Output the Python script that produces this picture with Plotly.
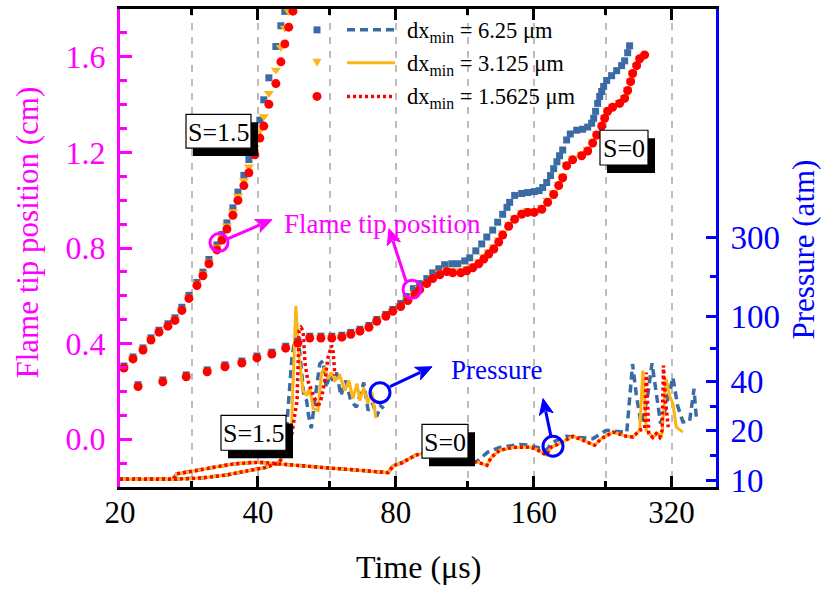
import math
import plotly.graph_objects as go

# ---------------- data ----------------
# Flame tip position, S = 1.5 (time in us, position in cm)
t_tip15 = [20.4, 21.35, 22.45, 23.37, 24.33, 25.45, 26.36, 27.3, 28.28, 29.44, 30.34, 31.27,
           32.55, 33.38, 34.23, 35.28, 36.18, 37.28, 38.23, 39.4, 40.4, 41.2, 42.27, 43.78,
           44.9, 45.8, 46.7, 47.7]
tip15_dx1 = [0.298, 0.336, 0.373, 0.415, 0.448, 0.473, 0.497, 0.539, 0.589, 0.643, 0.684, 0.734,
             0.792, 0.833, 0.879, 0.937, 0.999, 1.061, 1.115, 1.190, 1.260, 1.310, 1.401, 1.488,
             1.579, 1.654, 1.724, 1.791]
tip15_dx3 = [0.302, 0.340, 0.378, 0.420, 0.452, 0.478, 0.503, 0.545, 0.596, 0.651, 0.693, 0.744,
             0.804, 0.846, 0.893, 0.953, 1.018, 1.082, 1.140, 1.220, 1.292, 1.350, 1.448, 1.545,
             1.640, 1.720, 1.790, 1.860]
tip15_dx6 = [0.306, 0.344, 0.382, 0.424, 0.456, 0.483, 0.508, 0.552, 0.602, 0.656, 0.699, 0.752,
             0.813, 0.857, 0.905, 0.968, 1.034, 1.104, 1.170, 1.255, 1.335, 1.420, 1.512, 1.643,
             1.730, 1.790, 1.850, 1.920]

# Flame tip position, S = 0
t_tip0 = [21.9, 24.8, 27.9, 31.0, 33.9, 36.9, 39.8, 42.9, 46.0, 48.9, 51.9, 54.9, 58.0, 61.0,
          63.8, 66.8, 69.9, 72.7, 76.1, 78.8, 82.0, 85.0, 88.0, 90.2, 93.5, 96.3, 99.8, 103.4,
          106.5, 110.9, 114.3, 117.8, 121.4, 124.5, 127.6, 130.9, 134.2, 136.9, 141.1, 145.4,
          150.6, 155.2, 160.4, 166.6, 171.6, 176.9, 181.4, 185.1, 188.8, 194.6, 203.6, 209.9,
          215.2, 219.6, 225.2, 228.6, 232.0, 237.9, 246.4, 252.7, 256.6, 260.4, 263.1, 268.4,
          272.5, 279.4]
tip0_dx1 = [0.220, 0.240, 0.261, 0.282, 0.303, 0.319, 0.340, 0.356, 0.381, 0.402, 0.423, 0.423,
            0.423, 0.427, 0.439, 0.452, 0.468, 0.493, 0.514, 0.535, 0.555, 0.580, 0.605, 0.626,
            0.651, 0.672, 0.688, 0.701, 0.696, 0.696, 0.705, 0.717, 0.734, 0.754, 0.775, 0.796,
            0.825, 0.854, 0.891, 0.920, 0.941, 0.949, 0.949, 0.962, 0.991, 1.024, 1.061, 1.094,
            1.144, 1.169, 1.186, 1.206, 1.239, 1.273, 1.310, 1.343, 1.372, 1.389, 1.405, 1.426,
            1.459, 1.496, 1.530, 1.563, 1.592, 1.608]
tip0_dx3 = [0.223, 0.243, 0.264, 0.285, 0.306, 0.322, 0.343, 0.359, 0.384, 0.405, 0.426, 0.426,
            0.426, 0.430, 0.442, 0.455, 0.471, 0.496, 0.517, 0.538, 0.559, 0.585, 0.611, 0.632,
            0.657, 0.679, 0.696, 0.709, 0.705, 0.705, 0.714, 0.727, 0.744, 0.764, 0.785, 0.806,
            0.835, 0.864, 0.900, 0.928, 0.950, 0.958, 0.958, 0.971, 1.000, 1.032, 1.068, 1.101,
            1.150, 1.176, 1.193, 1.213, 1.246, 1.279, 1.316, 1.348, 1.377, 1.394, 1.410, 1.430,
            1.463, 1.499, 1.532, 1.565, 1.593, 1.606]
t_tip0_dx6 = [21.9, 24.8, 27.9, 31.0, 33.9, 36.9, 39.8, 42.9, 46.0, 48.9, 51.9, 54.9, 58.0, 61.0,
              63.8, 66.8, 69.9, 72.7, 76.1, 78.8, 82.0, 84.3, 87.4, 90.2, 93.5, 96.3, 99.3, 102.3,
              106.0, 109.2, 113.1, 116.0, 119.6, 123.2, 126.4, 130.2, 133.5, 136.9, 139.9, 141.8,
              145.4, 150.6, 155.2, 160.4, 164.4, 167.4, 170.8, 174.1, 176.9, 179.8, 182.2, 185.1,
              188.8, 192.3, 198.6, 204.6, 209.9, 214.1, 216.3, 218.4, 220.7, 222.9, 225.2, 227.4,
              230.9, 236.7, 242.8, 248.9, 252.7, 256.6, 259.1]
tip0_dx6 = [0.228, 0.248, 0.269, 0.290, 0.311, 0.327, 0.348, 0.364, 0.389, 0.410, 0.431, 0.431,
            0.431, 0.435, 0.447, 0.460, 0.476, 0.501, 0.522, 0.543, 0.568, 0.597, 0.630, 0.651,
            0.672, 0.696, 0.713, 0.730, 0.734, 0.734, 0.746, 0.759, 0.788, 0.817, 0.846, 0.875,
            0.908, 0.941, 0.970, 0.991, 1.020, 1.028, 1.032, 1.036, 1.040, 1.053, 1.074, 1.103,
            1.132, 1.161, 1.186, 1.210, 1.252, 1.277, 1.293, 1.297, 1.306, 1.322, 1.343, 1.372,
            1.405, 1.434, 1.455, 1.476, 1.501, 1.521, 1.542, 1.563, 1.583, 1.617, 1.646]

# Pressure, S = 1.5 (atm)
t_p15_dx1 = [20.0, 26.1, 30.1, 33.9, 38.1, 41.4, 44.3, 45.4, 47.0, 48.7, 49.2, 49.7, 50.2, 50.7,
             51.4, 52.3, 53.2, 54.1, 55.1, 56.0, 56.9, 57.9, 58.3, 58.9]
p15_dx1 = [10.1, 10.1, 10.3, 10.7, 11.4, 11.9, 12.7, 13.8, 16.3, 30.5, 81, 85, 81, 51,
           40.4, 36.1, 31.4, 27.8, 31.9, 40.4, 55.9, 65.7, 64.3, 43.3]
t_p15_dx3 = [20.0, 26.1, 30.1, 33.9, 38.1, 41.4, 44.3, 45.4, 46.5, 47.4, 48.4, 49.2, 50.2, 51.1,
             51.9, 52.8, 54.1, 55.1, 56.0, 56.9, 57.9, 58.9, 60.4, 61.9, 63.2, 64.5, 65.8, 66.8,
             68.1, 69.5, 70.9, 72.4]
p15_dx3 = [10.1, 10.1, 10.3, 10.7, 11.4, 11.9, 12.7, 13.8, 15.2, 22.1, 115, 55.9, 35.1, 32.7,
           36.8, 27.3, 26.6, 45.3, 48.6, 41.3, 45.3, 40.4, 43.3, 35.1, 40.4, 31.4, 38.7, 30.5,
           36.6, 29.3, 34.4, 23.8]
t_p15_dx6 = [20.0, 26.1, 30.1, 33.9, 38.1, 41.4, 44.3, 45.4, 46.0, 46.6, 47.0, 47.45, 47.9, 48.7,
             49.2, 49.9, 50.4, 51.1, 51.6, 52.3, 53.0, 53.7, 54.6, 55.5, 56.4, 57.4, 58.3, 59.4,
             60.7, 62.2, 63.8, 65.6, 66.8, 68.1, 69.6, 71.3, 72.7, 74.1, 75.3]
p15_dx6 = [10.1, 10.1, 10.3, 10.7, 11.4, 11.9, 12.7, 13.8, 17.5, 27.8, 40.4, 55.6, 65.7, 74.0,
           65.7, 40.4, 32.7, 30.5, 24.8, 20.7, 26.6, 36.6, 51.2, 53.4, 36.6, 44.5, 40.4, 45.3,
           32.7, 40.4, 30.5, 27.8, 32.7, 39.3, 26.6, 29.3, 24.4, 28.4, 27.3]

# Pressure, S = 0 (atm)
t_p0_dx1 = [20.0, 26.1, 26.6, 28.7, 32.2, 35.1, 38.8, 40.8, 45.1, 53.3, 63.0, 77.0, 78.9, 82.3,
            88.4, 91.6, 102.3, 114.9, 120.0, 126.5, 129.4, 134.9, 144.2, 156.8, 162.2, 170.5,
            174.9, 182.3, 194.9, 204.9, 217.4, 224.8, 238.3, 255.0, 263.5, 272.6, 279.4, 281.8,
            285.4, 291.1, 296.1, 301.4, 305.1, 307.2, 310.3, 314.6]
p0_dx1 = [10.1, 10.1, 10.9, 11.3, 11.9, 12.5, 12.8, 12.8, 12.5, 12.0, 11.6, 11.1, 12.2, 12.7,
          14.2, 14.5, 14.8, 13.2, 12.9, 12.3, 13.8, 15.2, 15.8, 15.9, 15.4, 14.2,
          15.9, 16.7, 18.5, 17.5, 16.3, 17.9, 19.6, 18.5, 18.3, 20.1, 20.6, 45.3,
          19.2, 18.2, 19.2, 18.2, 20.1, 49.9, 30.5, 21.0]
t_p0_dx3 = [20.0, 26.1, 26.6, 28.7, 32.2, 35.1, 38.8, 40.8, 45.1, 53.3, 63.0, 77.0, 78.9, 82.3,
            88.4, 91.6, 102.3, 114.9, 120.0, 126.5, 129.4, 134.9, 144.2, 156.8, 162.2, 170.5,
            174.9, 182.3, 194.9, 204.9, 217.4, 224.8, 238.3, 255.0, 263.5, 272.6, 276.9, 281.8,
            291.1, 298.3, 304.4, 311.4, 316.8, 322.1, 327.6, 338.7]
p0_dx3 = [10.1, 10.1, 10.9, 11.3, 11.9, 12.5, 12.8, 12.8, 12.5, 12.0, 11.6, 11.1, 12.2, 12.7,
          14.2, 14.5, 14.8, 13.2, 12.9, 12.3, 13.8, 15.2, 15.8, 15.9, 15.4, 14.2,
          15.9, 16.7, 18.5, 17.5, 16.3, 17.9, 19.6, 18.5, 18.3, 20.1, 46.5, 20.1,
          18.2, 19.2, 18.5, 41.3, 32.7, 29.2, 21.0, 19.6]
t_p0_dx6 = [20.0, 26.1, 26.6, 28.7, 32.2, 35.1, 38.8, 40.8, 45.1, 53.3, 63.0, 77.0, 78.9, 82.3,
            88.4, 91.6, 102.3, 114.9, 120.0, 127.0, 134.9, 149.1, 156.8, 170.5, 176.0, 188.6,
            198.3, 215.5, 230.5, 246.4, 255.4, 263.0, 268.0, 274.5, 283.0, 290.0, 296.0, 302.8,
            310.0, 322.1, 329.8, 338.7, 350.3, 358.2, 362.8]
p0_dx6 = [10.1, 10.1, 10.9, 11.3, 11.9, 12.5, 12.8, 12.8, 12.5, 12.0, 11.6, 11.1, 12.2, 12.7,
          14.2, 14.5, 14.8, 13.2, 12.9, 14.8, 15.8, 16.5, 16.3, 15.2, 17.0, 18.5,
          18.2, 17.9, 20.1, 19.8, 19.5, 51.0, 33.0, 22.1, 31.0, 51.5, 33.0, 22.1,
          27.0, 42.3, 28.4, 22.6, 22.8, 36.0, 23.0]

legend_labels = ["dx<sub>min</sub> = 6.25 \u03bcm", "dx<sub>min</sub> = 3.125 \u03bcm",
                 "dx<sub>min</sub> = 1.5625 \u03bcm"]
x_ticks = [20, 40, 80, 160, 320]
x_minor = [28.7, 57.4, 114.8, 229.6]
tip_ticks = [0.0, 0.4, 0.8, 1.2, 1.6]
p_ticks = [10, 20, 40, 100, 300]
p_minor = [14.14, 28.28, 63.25, 173.2]

# ---------------- styles ----------------
BLUE = "#3A6BA5"
ORANGE = "#FDB515"
RED = "#FF0000"
MAG = "#FF00FF"
AXB = "#0000FF"
FONT = "'Times New Roman', 'Liberation Serif', serif"

W, H = 821, 592
L, R, T, B = 120, 716, 6, 487


def fx(p):
    return (p - L) / (R - L)


def fy(p):
    return (B - p) / (B - T)


fig = go.Figure()

# pressure lines (right log axis -> y)
press = [
    (t_p15_dx6, p15_dx6, BLUE, "8px,5px", 3.5),
    (t_p0_dx6, p0_dx6, BLUE, "8px,5px", 3.5),
    (t_p15_dx3, p15_dx3, ORANGE, "solid", 3),
    (t_p0_dx3, p0_dx3, ORANGE, "solid", 3),
    (t_p15_dx1, p15_dx1, RED, "3px,3px", 3.5),
    (t_p0_dx1, p0_dx1, RED, "3px,3px", 3.5),
]
for tx, py_, c, d, w in press:
    fig.add_trace(go.Scatter(x=tx, y=py_, mode="lines", yaxis="y",
                             line=dict(color=c, dash=d, width=w), showlegend=False))

# flame tip markers (left linear axis -> y2)
tips = [
    (t_tip15, tip15_dx6, BLUE, "square", 7),
    (t_tip0_dx6, tip0_dx6, BLUE, "square", 7),
    (t_tip15, tip15_dx3, ORANGE, "triangle-down", 9),
    (t_tip0, tip0_dx3, ORANGE, "triangle-down", 9),
    (t_tip15, tip15_dx1, RED, "circle", 9),
    (t_tip0, tip0_dx1, RED, "circle", 9),
]
for tx, vy, c, s, sz in tips:
    fig.add_trace(go.Scatter(x=tx, y=vy, mode="markers", yaxis="y2",
                             marker=dict(color=c, symbol=s, size=sz, line=dict(width=0)),
                             showlegend=False))

shapes = []
annos = []

# legend drawn by hand
rows = [27, 60, 94]
leg_styles = [(BLUE, "8px,5px", 3.5), (ORANGE, "solid", 3), (RED, "3px,3px", 3.5)]
for (c, d, w), yy, lab in zip(leg_styles, rows, legend_labels):
    shapes.append(dict(type="line", xref="paper", yref="paper", x0=fx(347), x1=fx(395),
                       y0=fy(yy), y1=fy(yy), line=dict(color=c, dash=d, width=w), layer="above"))
    annos.append(dict(x=fx(405), y=fy(yy + 2), xref="paper", yref="paper", text=lab,
                      showarrow=False, xanchor="left", yanchor="middle",
                      font=dict(family=FONT, size=22.5, color="black")))
shapes.append(dict(type="rect", xref="paper", yref="paper", x0=fx(313.5), x1=fx(320.5),
                   y0=fy(30.5), y1=fy(23.5), fillcolor=BLUE, line=dict(width=0), layer="above"))
shapes.append(dict(type="path", xref="paper", yref="paper",
                   path=f"M {fx(312.5)} {fy(56)} L {fx(321.5)} {fy(56)} L {fx(317)} {fy(64)} Z",
                   fillcolor=ORANGE, line=dict(width=0), layer="above"))
shapes.append(dict(type="circle", xref="paper", yref="paper", x0=fx(312.5), x1=fx(321.5),
                   y0=fy(98.5), y1=fy(89.5), fillcolor=RED, line=dict(width=0), layer="above"))

# S labels with drop shadows
boxes = [("S=1.5", 186, 112, 251, 146), ("S=1.5", 221, 415, 286, 450),
         ("S=0", 600, 128, 648, 163), ("S=0", 422, 424, 468, 458)]
for txt, x0, y0, x1, y1 in boxes:
    shapes.append(dict(type="rect", xref="paper", yref="paper", x0=fx(x0 + 7), x1=fx(x1 + 7),
                       y0=fy(y1 + 8), y1=fy(y0 + 8), fillcolor="black", line=dict(width=0),
                       layer="above"))
    shapes.append(dict(type="rect", xref="paper", yref="paper", x0=fx(x0), x1=fx(x1),
                       y0=fy(y1), y1=fy(y0), fillcolor="white",
                       line=dict(color="black", width=1.2), layer="above"))
    annos.append(dict(x=fx((x0 + x1) / 2), y=fy((y0 + y1) / 2 + 1), xref="paper", yref="paper",
                      text=txt, showarrow=False, xanchor="center", yanchor="middle",
                      font=dict(family=FONT, size=26, color="black")))

# highlight circles
for cx, cy, r, c in [(219, 241, 9, MAG), (412, 288, 9, MAG), (380, 392, 10, AXB), (553, 446, 10, AXB)]:
    shapes.append(dict(type="circle", xref="paper", yref="paper", x0=fx(cx - r), x1=fx(cx + r),
                       y0=fy(cy + r), y1=fy(cy - r), line=dict(color=c, width=3), layer="above"))

# arrows (tail -> tip), drawn as a line plus a filled head
for (tx0, ty0, tx1, ty1, c) in [(228, 237, 272, 218, MAG), (406, 280, 389, 227, MAG),
                                (390, 386, 432, 366, AXB), (551, 436, 543, 398, AXB)]:
    dx, dy = tx1 - tx0, ty1 - ty0
    n = math.hypot(dx, dy)
    ux, uy = dx / n, dy / n
    hl, hw = 16.0, 7.0
    bx, by = tx1 - ux * hl, ty1 - uy * hl
    nx, ny = -uy, ux
    shapes.append(dict(type="line", xref="paper", yref="paper", x0=fx(tx0), y0=fy(ty0),
                       x1=fx(bx + ux * 3), y1=fy(by + uy * 3), line=dict(color=c, width=3),
                       layer="above"))
    notch_x, notch_y = bx + ux * 4, by + uy * 4
    path = (f"M {fx(tx1)} {fy(ty1)} L {fx(bx + nx * hw)} {fy(by + ny * hw)} "
            f"L {fx(notch_x)} {fy(notch_y)} L {fx(bx - nx * hw)} {fy(by - ny * hw)} Z")
    shapes.append(dict(type="path", xref="paper", yref="paper", path=path, fillcolor=c,
                       line=dict(color=c, width=1), layer="above"))

annos.append(dict(x=fx(282), y=fy(222), xref="paper", yref="paper", text="Flame tip position",
                  showarrow=False, xanchor="left", yanchor="middle",
                  font=dict(family=FONT, size=27, color=MAG)))
annos.append(dict(x=fx(449), y=fy(369), xref="paper", yref="paper", text="Pressure",
                  showarrow=False, xanchor="left", yanchor="middle",
                  font=dict(family=FONT, size=27, color=AXB)))

# axis titles
annos.append(dict(x=fx(28), y=fy(231), xref="paper", yref="paper", text="Flame tip position (cm)",
                  textangle=-90, showarrow=False, xanchor="center", yanchor="middle",
                  font=dict(family=FONT, size=31, color=MAG)))
annos.append(dict(x=fx(803), y=fy(248), xref="paper", yref="paper", text="Pressure (atm)",
                  textangle=-90, showarrow=False, xanchor="center", yanchor="middle",
                  font=dict(family=FONT, size=31, color=AXB)))
annos.append(dict(x=fx(418), y=fy(568), xref="paper", yref="paper", text="Time (\u03bcs)",
                  showarrow=False, xanchor="center", yanchor="middle",
                  font=dict(family=FONT, size=32, color="black")))

grid = dict(showgrid=True, gridcolor="#BDBDBD", griddash="7px,7px", gridwidth=1.6)

fig.update_layout(
    width=W, height=H,
    margin=dict(l=L, r=W - R, t=T, b=H - B, pad=0),
    paper_bgcolor="white", plot_bgcolor="white",
    showlegend=False,
    font=dict(family=FONT),
    xaxis=dict(type="log", range=[math.log10(20), math.log10(400)],
               tickmode="array", tickvals=x_ticks, ticktext=[str(v) for v in x_ticks],
               ticks="inside", ticklen=11, tickwidth=2.5, tickcolor="black",
               showline=True, linewidth=3, linecolor="black", mirror="ticks",
               zeroline=False, ticklabelstandoff=-4,
               tickfont=dict(family=FONT, size=31, color="black"),
               minor=dict(tickmode="array", tickvals=x_minor, ticks="inside", ticklen=6,
                          tickwidth=2.5, tickcolor="black", **grid),
               **grid),
    yaxis=dict(type="log", side="right", range=[0.9576, 3.8728],
               tickmode="array", tickvals=p_ticks, ticktext=[str(v) for v in p_ticks],
               ticks="inside", ticklen=10, tickwidth=2.5, tickcolor=AXB,
               showline=True, linewidth=3, linecolor=AXB, showgrid=False, zeroline=False,
               ticklabelstandoff=5,
               tickfont=dict(family=FONT, size=33, color=AXB),
               minor=dict(tickmode="array", tickvals=p_minor, ticks="inside", ticklen=6,
                          tickwidth=2.5, tickcolor=AXB, showgrid=False)),
    yaxis2=dict(overlaying="y", side="left", range=[-0.2, 1.8],
                tickmode="array", tickvals=tip_ticks, ticktext=["%.1f" % v for v in tip_ticks],
                ticks="inside", ticklen=12, tickwidth=2.5, tickcolor=MAG,
                showline=True, linewidth=3, linecolor=MAG, showgrid=False, zeroline=False,
                ticklabelstandoff=5,
                tickfont=dict(family=FONT, size=32, color=MAG),
                minor=dict(dtick=0.1, tick0=0, ticks="inside", ticklen=7, tickwidth=2.5,
                           tickcolor=MAG, showgrid=False)),
    shapes=shapes,
    annotations=annos,
)

fig.write_html("out.html")
